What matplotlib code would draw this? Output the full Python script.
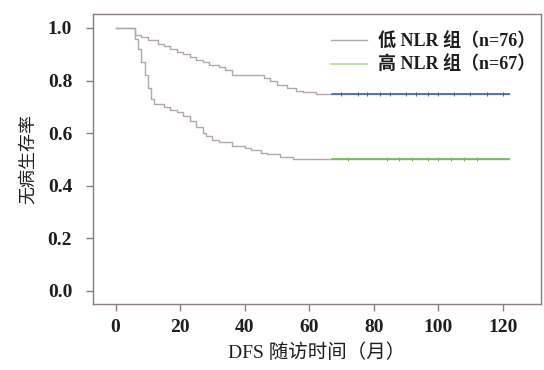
import matplotlib
matplotlib.use("Agg")
import matplotlib.pyplot as plt
from matplotlib.lines import Line2D

plt.rcParams['font.family'] = ['Liberation Serif', 'Noto Sans CJK SC']

# Kaplan-Meier step data (months, DFS)
low_t = [0, 6, 8, 10, 13, 15, 17, 19, 21, 23, 25, 27, 29, 32, 34, 36, 46, 48, 50, 53, 56, 58, 62, 122]
low_s = [1.0, 0.975, 0.965, 0.955, 0.94, 0.93, 0.92, 0.91, 0.90, 0.89, 0.88, 0.87, 0.86, 0.85, 0.84, 0.82, 0.81, 0.80, 0.785, 0.77, 0.76, 0.755, 0.75, 0.75]
high_t = [0, 6, 7, 8, 9, 10, 11, 12, 15, 17, 19, 21, 23, 25, 27, 28, 30, 32, 36, 40, 42, 45, 47, 51, 55, 122]
high_s = [1.0, 0.96, 0.92, 0.87, 0.82, 0.77, 0.73, 0.71, 0.70, 0.69, 0.68, 0.665, 0.645, 0.625, 0.60, 0.59, 0.575, 0.565, 0.55, 0.545, 0.535, 0.525, 0.52, 0.51, 0.50, 0.50]
low_cens = [70, 75, 78, 82, 85, 90, 93, 97, 100, 105, 110, 115, 120]
high_cens = [72, 84, 88, 92, 97, 100, 104, 108, 112]
split_at = 67

labels = ['低 NLR 组（n=76）', '高 NLR 组（n=67）']
colors = ['#4164b4', '#72bb50']
gray = '#b3a7aa'
frame = '#8b7d7b'
textc = '#1e1e1e'

fig = plt.figure(figsize=(5.44, 3.70), dpi=100)
ax = fig.add_axes([0.171, 0.178, 0.823, 0.784])

for t, s, cens, c in [(low_t, low_s, low_cens, colors[0]), (high_t, high_s, high_cens, colors[1])]:
    ax.step(t, s, where='post', color=gray, lw=1.0)
    level = s[-1]
    ax.plot([split_at, t[-1]], [level, level], color=c, lw=1.2)
    ax.plot(cens, [level] * len(cens), ls='none', marker='|', ms=3, color=c, mew=0.7)

handles = [Line2D([], [], color=gray, lw=1.0), Line2D([], [], color='#c2deaa', lw=1.4)]
leg = ax.legend(handles, labels, loc='upper right', bbox_to_anchor=(1.0, 0.955),
                frameon=False, handlelength=2.0, handletextpad=0.6,
                prop={'size': 13, 'weight': 'bold'},
                borderaxespad=0.0, borderpad=0.3, labelspacing=0.3)
for txt in leg.get_texts():
    txt.set_color(textc)

ax.set_xlim(-7, 131.8)
ax.set_ylim(-0.05, 1.053)
ax.set_xticks([0, 20, 40, 60, 80, 100, 120])
ax.set_yticks([0.0, 0.2, 0.4, 0.6, 0.8, 1.0])
ax.set_yticklabels(['0.0', '0.2', '0.4', '0.6', '0.8', '1.0'])
ax.tick_params(labelsize=14, colors=frame, labelcolor=textc, length=5, width=1, pad=6)
ax.tick_params(axis='y', pad=10)
for sp in ax.spines.values():
    sp.set_color(frame)
    sp.set_linewidth(1.0)
for lab in ax.get_xticklabels() + ax.get_yticklabels():
    lab.set_fontweight('bold')

ax.set_xlabel('DFS 随访时间（月）', fontsize=14, color=textc, labelpad=5)
ax.set_ylabel('无病生存率', fontsize=13, color=textc, labelpad=8, fontweight='medium')

fig.savefig('out.png', dpi=100)
